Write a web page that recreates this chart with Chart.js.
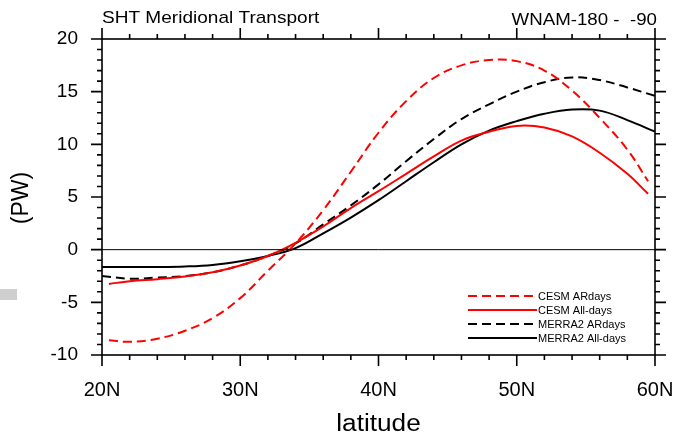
<!DOCTYPE html>
<html>
<head>
<meta charset="utf-8">
<script src="https://cdn.jsdelivr.net/npm/chart.js@4.4.1/dist/chart.umd.min.js"></script>
<style>
  body { margin: 0; background: #fff; }
  #caja { position: relative; width: 677px; height: 440px; }
  #marca { position: absolute; left: 0; top: 289px; width: 17px; height: 11px; background: #cfcfcf; }
</style>
</head>
<body>
<div id="caja">
  <canvas id="transporte" width="677" height="440"></canvas>
  <div id="marca"></div>
</div>
<script>
// latitudes de cada serie (CESM empieza y termina medio grado adentro)
const latCesm = [20.5, 22, 24, 26, 28, 30, 32, 34, 36, 38, 40, 42, 44, 46, 48, 50, 52, 54, 56, 58, 59.5];
const latMerra = [20, 22, 24, 26, 28, 30, 32, 34, 36, 38, 40, 42, 44, 46, 48, 50, 52, 54, 56, 58, 60];

// transporte meridional en PW
const cesmAR = [-8.6, -8.75, -8.45, -7.7, -6.5, -4.6, -2.0, 0.6, 3.75, 7.4, 11.1, 14.1, 16.3, 17.5, 18.0, 17.9, 17.0, 15.1, 12.5, 9.5, 6.5];
const cesmAll = [-3.25, -3.0, -2.8, -2.55, -2.15, -1.5, -0.6, 0.65, 2.2, 3.95, 5.55, 7.2, 8.85, 10.35, 11.2, 11.75, 11.6, 10.75, 9.2, 7.2, 5.3];
const merraAR = [-2.5, -2.75, -2.65, -2.5, -2.15, -1.5, -0.6, 0.6, 2.4, 4.2, 6.2, 8.4, 10.5, 12.4, 13.8, 15.0, 15.9, 16.35, 16.1, 15.4, 14.6];
const merraAll = [-1.65, -1.65, -1.65, -1.6, -1.45, -1.1, -0.6, 0.15, 1.55, 3.05, 4.7, 6.5, 8.3, 10.0, 11.3, 12.2, 12.9, 13.3, 13.2, 12.3, 11.2];

const nombres = ['CESM ARdays', 'CESM All-days', 'MERRA2 ARdays', 'MERRA2 All-days'];
const ticksX = [20, 30, 40, 50, 60];
const ticksY = [-10, -5, 0, 5, 10, 15, 20];

const FUENTE = '"Liberation Sans", Arial, sans-serif';

const puntos = (xs, ys) => xs.map((x, i) => ({x: x, y: ys[i]}));

// texto un poco ensanchado, como sale de NCL
const textoAncho = (ctx, txt, x, y, k) => {
    ctx.save();
    ctx.translate(x, y);
    ctx.scale(k, 1);
    ctx.fillText(txt, 0, 0);
    ctx.restore();
};

// marco con marcas hacia afuera en los cuatro lados, línea del cero, títulos y leyenda
const marco = {
    id: 'marco',
    afterDatasetsDraw(chart) {
        const {ctx, chartArea: a, scales: {x, y}} = chart;
        ctx.save();
        ctx.strokeStyle = '#000';
        ctx.lineWidth = 1;
        const y0 = y.getPixelForValue(0);
        ctx.beginPath();
        ctx.moveTo(a.left, y0);
        ctx.lineTo(a.right, y0);
        ctx.stroke();

        ctx.lineWidth = 1.6;
        ctx.strokeRect(a.left, a.top, a.right - a.left, a.bottom - a.top);
        ctx.beginPath();
        for (let v = 20; v <= 60; v += 2) {
            const px = x.getPixelForValue(v);
            const l = v % 10 === 0 ? 11 : 5;
            ctx.moveTo(px, a.bottom); ctx.lineTo(px, a.bottom + l);
            ctx.moveTo(px, a.top); ctx.lineTo(px, a.top - l);
        }
        for (let v = -10; v <= 20; v += 1) {
            const py = y.getPixelForValue(v);
            const l = v % 5 === 0 ? 11 : 5;
            ctx.moveTo(a.left, py); ctx.lineTo(a.left - l, py);
            ctx.moveTo(a.right, py); ctx.lineTo(a.right + l, py);
        }
        ctx.stroke();

        // títulos
        ctx.fillStyle = '#000';
        ctx.font = '17px ' + FUENTE;
        ctx.textBaseline = 'alphabetic';
        ctx.textAlign = 'left';
        textoAncho(ctx, 'SHT Meridional Transport', a.left, 23, 1.12);
        ctx.textAlign = 'right';
        textoAncho(ctx, 'WNAM-180 -  -90', a.right + 2, 25, 1.1);

        ctx.font = '23px ' + FUENTE;
        ctx.textAlign = 'center';
        ctx.textBaseline = 'middle';
        textoAncho(ctx, 'latitude', (a.left + a.right) / 2, 425, 1.14);
        ctx.translate(22, 198);
        ctx.rotate(-Math.PI / 2);
        ctx.fillText('(PW)', 0, 0);
        ctx.setTransform(1, 0, 0, 1, 0, 0);

        // leyenda dentro del área del gráfico
        ctx.font = '11px ' + FUENTE;
        ctx.textAlign = 'left';
        chart.data.datasets.forEach((ds, i) => {
            const ly = a.top + 257 + i * 14;
            const lx = a.right - 187;
            ctx.strokeStyle = ds.borderColor;
            ctx.lineWidth = 2;
            ctx.setLineDash(ds.borderDash || []);
            ctx.beginPath();
            ctx.moveTo(lx, ly);
            ctx.lineTo(lx + 69, ly);
            ctx.stroke();
            ctx.setLineDash([]);
            ctx.fillText(ds.label, lx + 70, ly + 1);
        });
        ctx.restore();
    }
};

const ctx = document.getElementById('transporte');

new Chart(ctx, {
    type: 'line',
    data: {
        datasets: [
            { label: nombres[0], data: puntos(latCesm, cesmAR), borderColor: '#ff0000', borderDash: [9, 5] },
            { label: nombres[1], data: puntos(latCesm, cesmAll), borderColor: '#ff0000' },
            { label: nombres[2], data: puntos(latMerra, merraAR), borderColor: '#000000', borderDash: [9, 5] },
            { label: nombres[3], data: puntos(latMerra, merraAll), borderColor: '#000000' },
        ],
    },
    options: {
        responsive: false,
        animation: false,
        layout: { padding: { top: 39, right: 22, left: 0, bottom: 0 } },
        elements: {
            point: { radius: 0 },
            line: { borderWidth: 2, tension: 0.4, fill: false },
        },
        plugins: {
            legend: { display: false },
            title: { display: false },
            tooltip: { enabled: false },
        },
        scales: {
            x: {
                type: 'linear',
                min: 20,
                max: 60,
                grid: { display: false, drawTicks: false },
                border: { display: false },
                afterBuildTicks: (s) => { s.ticks = ticksX.map(v => ({value: v})); },
                afterFit: (s) => { s.height = 85; s.paddingLeft = 0; s.paddingRight = 0; },
                ticks: {
                    padding: 23,
                    color: '#000',
                    font: { family: FUENTE, size: 20 },
                    maxRotation: 0,
                    callback: (v) => v + 'N',
                },
            },
            y: {
                min: -10,
                max: 20,
                grid: { display: false, drawTicks: false },
                border: { display: false },
                afterBuildTicks: (s) => { s.ticks = ticksY.map(v => ({value: v})); },
                afterFit: (s) => { s.width = 102; s.paddingTop = 0; s.paddingBottom = 0; },
                ticks: {
                    padding: 24,
                    color: '#000',
                    font: { family: FUENTE, size: 19 },
                },
            },
        },
    },
    plugins: [marco],
});
</script>
</body>
</html>
